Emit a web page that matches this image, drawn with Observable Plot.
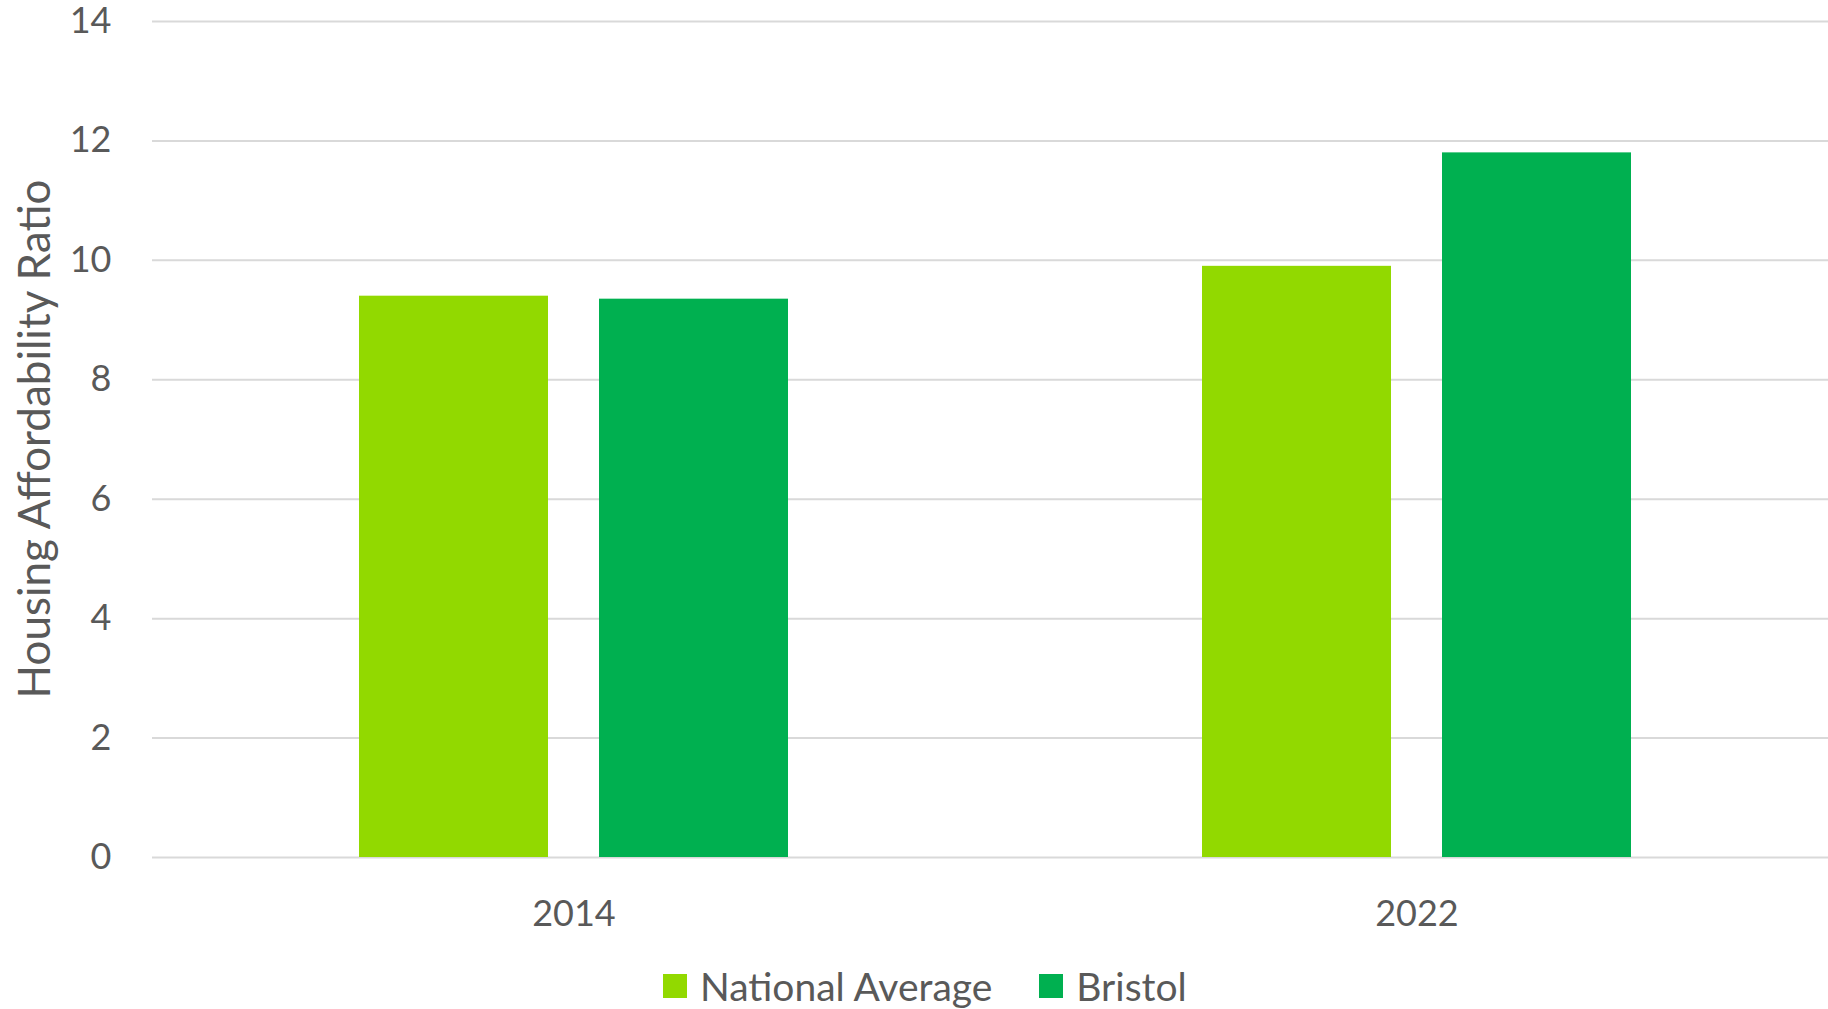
<!DOCTYPE html>
<html>
<head>
<meta charset="utf-8">
<script src="https://cdn.jsdelivr.net/npm/d3@7"></script>
<script src="https://cdn.jsdelivr.net/npm/@observablehq/plot@0.6"></script>
<style>
  html, body { margin: 0; padding: 0; background: #fff; overflow: hidden; }
  #wrap { position: relative; width: 1828px; height: 1009px; font-family: Lato, sans-serif; }
  #legend { position: absolute; left: 663px; top: 963px; display: flex; align-items: center; font-size: 39px; color: #595959; white-space: nowrap; }
  #legend .item { display: flex; align-items: center; margin-right: 47px; }
  #legend .sw { width: 24px; height: 24px; margin-right: 13px; }
  #ylabel { position: absolute; left: 33px; top: 439px; transform: translate(-50%, -50%) rotate(-90deg); font-size: 44px; color: #595959; white-space: nowrap; line-height: 1; }
</style>
</head>
<body>
<div id="wrap"><div id="chart"></div><div id="ylabel"></div><div id="legend"></div></div>
<script>
const years = ["2014", "2022"];
const seriesNames = ["National Average", "Bristol"];
const nationalAverage = [9.4, 9.9];
const bristol = [9.35, 11.8];
const seriesColors = ["#92D900", "#00B050"];
const yTicks = [0, 2, 4, 6, 8, 10, 12, 14];
const yLabel = "Housing Affordability Ratio";

const data = years.flatMap((yr, i) => [
  {year: yr, series: seriesNames[0], value: nationalAverage[i]},
  {year: yr, series: seriesNames[1], value: bristol[i]}
]);

const chart = Plot.plot({
  width: 1828,
  height: 955,
  marginLeft: 152,
  marginRight: -10,
  marginTop: 21,
  marginBottom: 98,
  style: {fontFamily: "Lato, sans-serif", fontSize: "36px", color: "#595959", background: "#fff", overflow: "visible"},
  fx: {domain: years, padding: 0, label: null},
  x: {domain: seriesNames, paddingInner: 0.2125, paddingOuter: 0.8625, axis: null},
  y: {domain: [0, 14], label: null},
  color: {domain: seriesNames, range: seriesColors},
  marks: [
    Plot.gridY(yTicks, {stroke: "#d9d9d9", strokeOpacity: 1, strokeWidth: 2}),
    Plot.barY(data, {fx: "year", x: "series", y: "value", fill: "series"}),
    Plot.axisY(yTicks, {tickSize: 0, tickPadding: 41, fill: "#595959", tickFormat: d3.format("d"), label: null}),
    Plot.axisFx({anchor: "bottom", tickSize: 0, tickPadding: 43, fill: "#595959", label: null})
  ]
});
document.getElementById("chart").appendChild(chart);
document.getElementById("ylabel").textContent = yLabel;

const legend = document.getElementById("legend");
seriesNames.forEach((name, i) => {
  const item = document.createElement("div");
  item.className = "item";
  const sw = document.createElement("div");
  sw.className = "sw";
  sw.style.background = seriesColors[i];
  const t = document.createElement("span");
  t.textContent = name;
  item.appendChild(sw);
  item.appendChild(t);
  legend.appendChild(item);
});
</script>
</body>
</html>
